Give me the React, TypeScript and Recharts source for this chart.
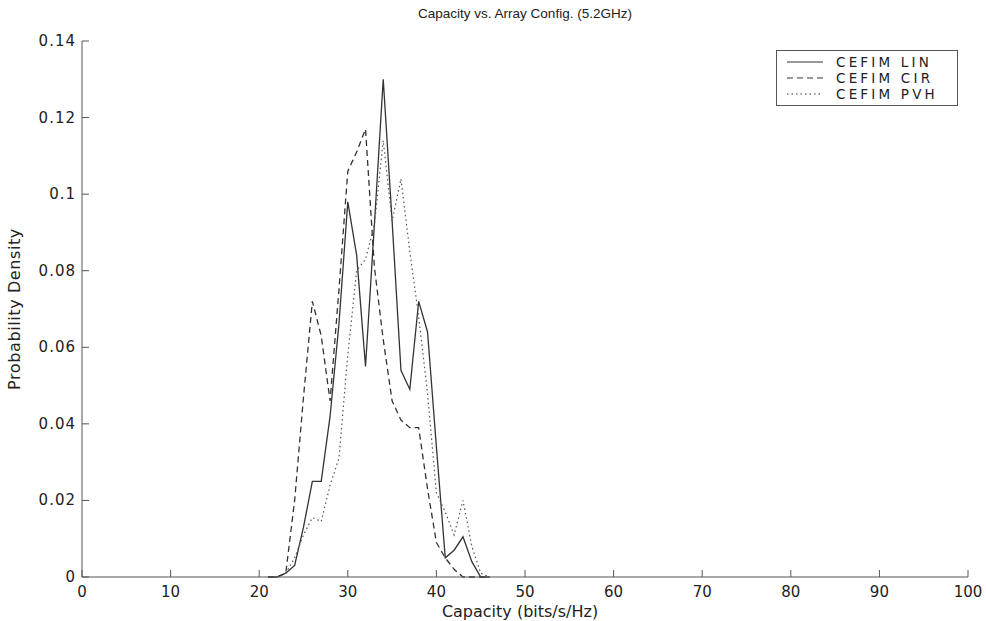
import { LineChart, Line, XAxis, YAxis } from 'recharts';

const capacity = [21, 22, 23, 24, 25, 26, 27, 28, 29, 30, 31, 32, 33, 34, 35, 36, 37, 38, 39, 40, 41, 42, 43, 44, 45, 46];
const linValues = [0, 0, 0.001, 0.003, 0.013, 0.025, 0.025, 0.042, 0.066, 0.098, 0.084, 0.055, 0.092, 0.13, 0.093, 0.054, 0.049, 0.072, 0.064, 0.034, 0.005, 0.007, 0.0105, 0.004, 0, 0];
const cirValues = [0, 0, 0.001, 0.02, 0.047, 0.072, 0.063, 0.046, 0.075, 0.106, 0.111, 0.117, 0.081, 0.062, 0.046, 0.041, 0.039, 0.039, 0.023, 0.009, 0.005, 0.002, 0, 0, 0, 0];
const pvhValues = [0, 0, 0.001, 0.005, 0.011, 0.0155, 0.0145, 0.024, 0.031, 0.058, 0.08, 0.083, 0.092, 0.114, 0.093, 0.104, 0.085, 0.068, 0.048, 0.022, 0.017, 0.011, 0.02, 0.008, 0.001, 0];

const xTicks = [0, 10, 20, 30, 40, 50, 60, 70, 80, 90, 100];
const yTicks = [0, 0.02, 0.04, 0.06, 0.08, 0.1, 0.12, 0.14];

const seriesNames = ['CEFIM LIN', 'CEFIM CIR', 'CEFIM PVH'];
const seriesDash = ['', '6 4', '1.5 3'];

const data = capacity.map((c, i) => ({ c, lin: linValues[i], cir: cirValues[i], pvh: pvhValues[i] }));

const font = '"Liberation Sans", Arial, Helvetica, sans-serif';
const wideFont = '"DejaVu Sans", Verdana, sans-serif';
const axisColor = '#555';
const ink = '#333';
const textColor = '#222';
const TICK = 7;

// matlab-style inward ticks; tickSize/tickMargin are 0 so x,y sit on the axis line
const BottomTick = ({ x, y, payload }: any) => (
  <g>
    <line x1={x} y1={y} x2={x} y2={y - TICK} stroke={axisColor} />
    <text x={x} y={y + 20} textAnchor="middle" fill={textColor} fontSize={15} fontFamily={wideFont}>
      {payload.value}
    </text>
  </g>
);
const TopTick = ({ x, y }: any) => <line x1={x} y1={y} x2={x} y2={y + TICK} stroke={axisColor} />;
const LeftTick = ({ x, y, payload }: any) => (
  <g>
    <line x1={x} y1={y} x2={x + TICK} y2={y} stroke={axisColor} />
    <text x={x - 6} y={y + 5} textAnchor="end" fill={textColor} fontSize={15} fontFamily={wideFont} letterSpacing={1}>
      {payload.value}
    </text>
  </g>
);
const RightTick = ({ x, y }: any) => <line x1={x} y1={y} x2={x - TICK} y2={y} stroke={axisColor} />;

const XLabel = ({ viewBox }: any) => (
  <text x={viewBox.x + viewBox.width / 2 - 5} y={viewBox.y + viewBox.height + 10} textAnchor="middle" fill={textColor} fontSize={16} fontFamily={wideFont}>
    Capacity (bits/s/Hz)
  </text>
);
const YLabel = ({ viewBox }: any) => {
  const cx = viewBox.x - 2;
  const cy = viewBox.y + viewBox.height / 2;
  return (
    <text x={cx} y={cy} transform={`rotate(-90 ${cx} ${cy})`} textAnchor="middle" fill={textColor} fontSize={16} fontFamily={wideFont} letterSpacing={0.6}>
      Probability Density
    </text>
  );
};

function LegendBox() {
  return (
    <div
      style={{
        position: 'absolute',
        top: 50,
        left: 776,
        border: `1px solid ${axisColor}`,
        background: '#fff',
        width: 182,
        height: 56,
        boxSizing: 'border-box',
        padding: '3px 0 0 10px',
        fontFamily: wideFont,
        fontSize: 13.5,
        letterSpacing: 3.2,
        color: textColor,
        lineHeight: '16px',
      }}
    >
      {seriesNames.map((name, i) => (
        <div key={name} style={{ display: 'flex', alignItems: 'center', height: 16 }}>
          <svg width={36} height={16} style={{ marginRight: 13 }}>
            <line x1={0} y1={8} x2={36} y2={8} stroke={ink} strokeWidth={1.2} strokeDasharray={seriesDash[i]} />
          </svg>
          <span>{name}</span>
        </div>
      ))}
    </div>
  );
}

export default function App() {
  return (
    <div style={{ position: 'absolute', left: 0, top: 0, width: 986, height: 621, background: '#fff' }}>
      <div
        style={{
          position: 'absolute',
          top: 6,
          left: 82,
          width: 886,
          textAlign: 'center',
          fontFamily: font,
          fontSize: 13.5,
          color: textColor,
        }}
      >
        Capacity vs. Array Config. (5.2GHz)
      </div>
      <LineChart width={986} height={621} data={data} margin={{ top: 41, right: 18, bottom: 14, left: 22 }}>
        <XAxis
          xAxisId="bottom"
          dataKey="c"
          type="number"
          domain={[0, 100]}
          ticks={xTicks}
          height={30}
          stroke={axisColor}
          tickLine={false}
          tickSize={0}
          tickMargin={0}
          tick={<BottomTick />}
          label={XLabel}
        />
        <XAxis
          xAxisId="top"
          orientation="top"
          dataKey="c"
          type="number"
          domain={[0, 100]}
          ticks={xTicks}
          height={0}
          stroke={axisColor}
          tickLine={false}
          tickSize={0}
          tickMargin={0}
          tick={<TopTick />}
        />
        <YAxis
          yAxisId="left"
          domain={[0, 0.14]}
          ticks={yTicks}
          width={60}
          stroke={axisColor}
          tickLine={false}
          tickSize={0}
          tickMargin={0}
          tick={<LeftTick />}
          label={YLabel}
        />
        <YAxis
          yAxisId="right"
          orientation="right"
          domain={[0, 0.14]}
          ticks={yTicks}
          width={0}
          stroke={axisColor}
          tickLine={false}
          tickSize={0}
          tickMargin={0}
          tick={<RightTick />}
        />
        <Line xAxisId="bottom" yAxisId="left" dataKey="lin" name={seriesNames[0]} stroke={ink} strokeWidth={1.3} dot={false} isAnimationActive={false} />
        <Line xAxisId="bottom" yAxisId="left" dataKey="cir" name={seriesNames[1]} stroke={ink} strokeWidth={1.3} strokeDasharray={seriesDash[1]} dot={false} isAnimationActive={false} />
        <Line xAxisId="bottom" yAxisId="left" dataKey="pvh" name={seriesNames[2]} stroke="#555" strokeWidth={1.2} strokeDasharray={seriesDash[2]} dot={false} isAnimationActive={false} />
      </LineChart>
      <LegendBox />
    </div>
  );
}
